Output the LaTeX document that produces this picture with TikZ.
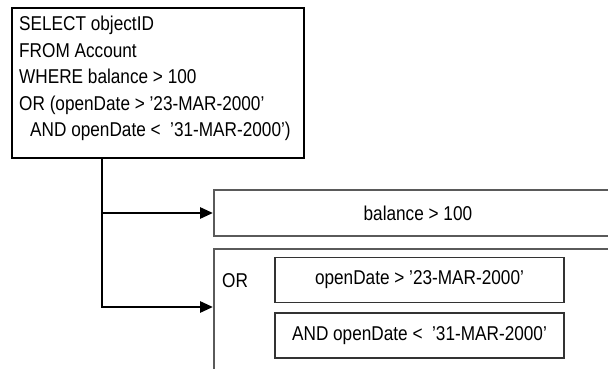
\documentclass[tikz,border=0pt]{standalone}
\usepackage{fontspec}
\setmainfont{Liberation Sans}[FakeStretch=0.86]
\usetikzlibrary{arrows.meta}
\definecolor{edgegray}{HTML}{5A5A5A}
\begin{document}
\begin{tikzpicture}[x=1pt,y=-1pt,
  txt/.style={font=\fontsize{20}{26.5}\selectfont},
  querybox/.style={draw=black,line width=2.8pt,inner sep=0pt,minimum width=292pt,minimum height=150pt,txt},
  condbox/.style={draw=edgegray,line width=1.8pt,inner sep=0pt,txt},
  innerbox/.style={draw=black!80,line width=1.8pt,inner sep=0pt,minimum width=289pt,minimum height=45pt,txt},
  link/.style={line width=2.8pt,-{Triangle[length=13pt,width=11pt]}}]
\useasboundingbox (0,0) rectangle (608,369);
\clip (0,0) rectangle (608,369);
\fill[white] (0,0) rectangle (608,369);
\node[querybox] (q) at (158,83) {};
\node[txt,anchor=north west,align=left,inner sep=0pt] (qt) at (19,16)
  {SELECT objectID\\FROM Account\\WHERE balance > 100\\OR (openDate > '23-MAR-2000'\\\hspace*{11pt}AND openDate <\ \ '31-MAR-2000')};
\node[condbox,anchor=west,minimum width=408pt,minimum height=46pt] (bal) at (213,213) {balance > 100};
\node[condbox,anchor=north west,minimum width=420pt,minimum height=150pt] (orbox) at (213,248) {};
\node[txt,anchor=west,inner sep=0pt] (orlbl) at (222,281) {OR};
\node[innerbox] (c1) at (419.5,280) {openDate > '23-MAR-2000'};
\node[innerbox] (c2) at (419.5,335.5) {AND openDate <\ \ '31-MAR-2000'};
\coordinate (t) at (102,158);
\coordinate (orin) at (213,307);
\draw[link] (t) |- (bal.west);
\draw[link] (t) |- (orin);
\end{tikzpicture}
\end{document}
